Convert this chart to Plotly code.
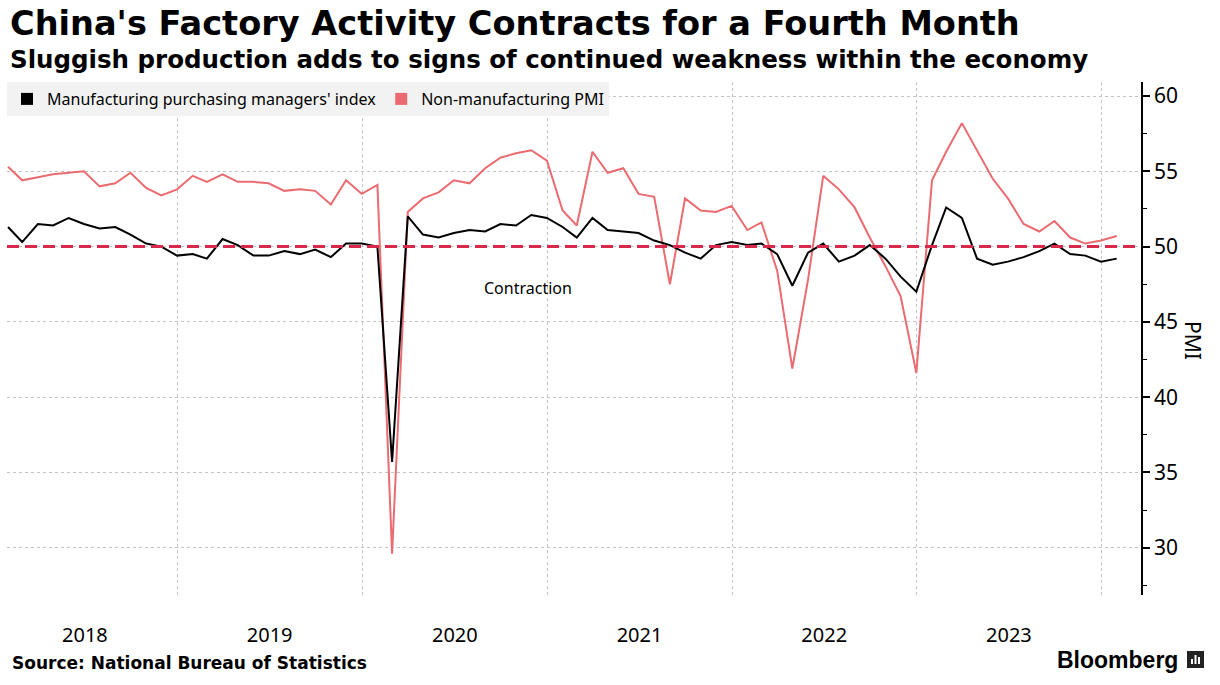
import pandas as pd
import plotly.graph_objects as go

# Monthly data, Jan 2018 - Jan 2024 (plotted at month end)
months = pd.date_range("2018-01-31", periods=73, freq="ME")

manufacturing = [
    51.3, 50.3, 51.5, 51.4, 51.9, 51.5, 51.2, 51.3, 50.8, 50.2, 50.0, 49.4,   # 2018
    49.5, 49.2, 50.5, 50.1, 49.4, 49.4, 49.7, 49.5, 49.8, 49.3, 50.2, 50.2,   # 2019
    50.0, 35.7, 52.0, 50.8, 50.6, 50.9, 51.1, 51.0, 51.5, 51.4, 52.1, 51.9,   # 2020
    51.3, 50.6, 51.9, 51.1, 51.0, 50.9, 50.4, 50.1, 49.6, 49.2, 50.1, 50.3,   # 2021
    50.1, 50.2, 49.5, 47.4, 49.6, 50.2, 49.0, 49.4, 50.1, 49.2, 48.0, 47.0,   # 2022
    50.1, 52.6, 51.9, 49.2, 48.8, 49.0, 49.3, 49.7, 50.2, 49.5, 49.4, 49.0,   # 2023
    49.2,                                                                       # 2024
]
non_manufacturing = [
    55.3, 54.4, 54.6, 54.8, 54.9, 55.0, 54.0, 54.2, 54.9, 53.9, 53.4, 53.8,
    54.7, 54.3, 54.8, 54.3, 54.3, 54.2, 53.7, 53.8, 53.7, 52.8, 54.4, 53.5,
    54.1, 29.6, 52.3, 53.2, 53.6, 54.4, 54.2, 55.2, 55.9, 56.2, 56.4, 55.7,
    52.4, 51.4, 56.3, 54.9, 55.2, 53.5, 53.3, 47.5, 53.2, 52.4, 52.3, 52.7,
    51.1, 51.6, 48.4, 41.9, 47.8, 54.7, 53.8, 52.6, 50.6, 48.7, 46.7, 41.6,
    54.4, 56.3, 58.2, 56.4, 54.5, 53.2, 51.5, 51.0, 51.7, 50.6, 50.2, 50.4,
    50.7,
]

year_labels = ["2018", "2019", "2020", "2021", "2022", "2023"]
year_label_pos = [f"{y}-07-02" for y in year_labels]
year_bounds = ["2019-01-01", "2020-01-01", "2021-01-01", "2022-01-01", "2023-01-01", "2024-01-01"]
y_ticks = [30, 35, 40, 45, 50, 55, 60]
threshold = 50

BLACK = "#000000"
SALMON = "#ea6b70"
RED = "#d8294d"
GRID = "#c4c4c4"
FONT = "Noto Sans"

fig = go.Figure()
fig.add_trace(go.Scatter(x=months, y=non_manufacturing, mode="lines",
                         line=dict(color=SALMON, width=2), showlegend=False,
                         name="Non-manufacturing PMI"))
fig.add_trace(go.Scatter(x=months, y=manufacturing, mode="lines",
                         line=dict(color=BLACK, width=2), showlegend=False,
                         name="Manufacturing purchasing managers' index"))
# legend entries (square swatches)
fig.add_trace(go.Scatter(x=[None], y=[None], mode="markers",
                         marker=dict(symbol="square", size=11, color=BLACK),
                         name="Manufacturing purchasing managers' index"))
fig.add_trace(go.Scatter(x=[None], y=[None], mode="markers",
                         marker=dict(symbol="square", size=11, color=SALMON),
                         name="Non-manufacturing PMI"))

fig.add_hline(y=threshold, line=dict(color=RED, width=3, dash="12px,6px"))

W, H = 1220, 685
L, R, T, B = 7, 79, 82, 90
pw, ph = W - L - R, H - T - B


def px(x):
    return (x - L) / pw


def py(y):
    return (H - B - y) / ph


fig.update_layout(
    width=W, height=H,
    margin=dict(l=L, r=R, t=T, b=B, autoexpand=False),
    plot_bgcolor="white", paper_bgcolor="white",
    font=dict(family=FONT, color="#000"),
    legend=dict(orientation="h", x=0, y=1, xanchor="left", yanchor="top",
                bgcolor="#f2f2f2", font=dict(size=16, family=FONT),
                itemsizing="constant", tracegroupgap=0, itemwidth=30),
    xaxis=dict(
        type="date", range=["2018-01-29", "2024-03-19"],
        tickmode="array", tickvals=year_label_pos, ticktext=year_labels,
        showgrid=False, zeroline=False, showline=False,
        ticks="outside", ticklen=22, tickcolor="rgba(0,0,0,0)",
        tickfont=dict(size=20, family=FONT),
        minor=dict(tickmode="array", tickvals=year_bounds, showgrid=True,
                   gridcolor=GRID, griddash="dot", gridwidth=1, ticks=""),
    ),
    yaxis=dict(
        side="right", range=[26.86, 60.93],
        tickmode="array", tickvals=y_ticks,
        showgrid=True, gridcolor=GRID, griddash="dot", gridwidth=1,
        zeroline=False, showline=True, linecolor="#000", linewidth=1.5,
        ticks="outside", ticklen=7, tickwidth=1.5, tickcolor="#000",
        tickfont=dict(size=21, family=FONT),
        minor=dict(dtick=2.5, tick0=27.5, ticks="outside", ticklen=4,
                   tickcolor="#000", tickwidth=1, showgrid=False),
    ),
)

annotations = [
    dict(text="<b>China's Factory Activity Contracts for a Fourth Month</b>",
         x=px(8), y=py(23), xanchor="left", yanchor="middle",
         font=dict(size=33.6, family="DejaVu Sans", color="#000")),
    dict(text="<b>Sluggish production adds to signs of continued weakness within the economy</b>",
         x=px(8), y=py(59), xanchor="left", yanchor="middle",
         font=dict(size=24.5, family="DejaVu Sans", color="#000")),
    dict(text="Contraction", x=px(528), y=py(288), xanchor="center", yanchor="middle",
         font=dict(size=16, family=FONT, color="#000")),
    dict(text="PMI", x=px(1193), y=py(340), xanchor="center", yanchor="middle",
         textangle=90, font=dict(size=21, family=FONT, color="#000")),
    dict(text="<b>Source: National Bureau of Statistics</b>",
         x=px(10), y=py(663), xanchor="left", yanchor="middle",
         font=dict(size=17, family="DejaVu Sans", color="#000")),
    dict(text="<b>Bloomberg</b>", x=px(1180), y=py(660), xanchor="right", yanchor="middle",
         font=dict(size=23, family="Liberation Sans", color="#000")),
]
for a in annotations:
    a.update(xref="paper", yref="paper", showarrow=False)
fig.update_layout(annotations=annotations)

# Bloomberg logo mark
logo = [
    dict(type="rect", x0=px(1187), x1=px(1204), y0=py(668), y1=py(651),
         fillcolor="#222", line=dict(width=0)),
    dict(type="rect", x0=px(1191), x1=px(1193), y0=py(664), y1=py(659),
         fillcolor="white", line=dict(width=0)),
    dict(type="rect", x0=px(1194.5), x1=px(1196.5), y0=py(664), y1=py(655),
         fillcolor="white", line=dict(width=0)),
    dict(type="rect", x0=px(1198), x1=px(1200), y0=py(664), y1=py(657),
         fillcolor="white", line=dict(width=0)),
]
for s in logo:
    s.update(xref="paper", yref="paper")
    fig.add_shape(**s)

fig.write_html("out.html", config={"displayModeBar": False},
               post_script="document.body.style.margin='0';")
